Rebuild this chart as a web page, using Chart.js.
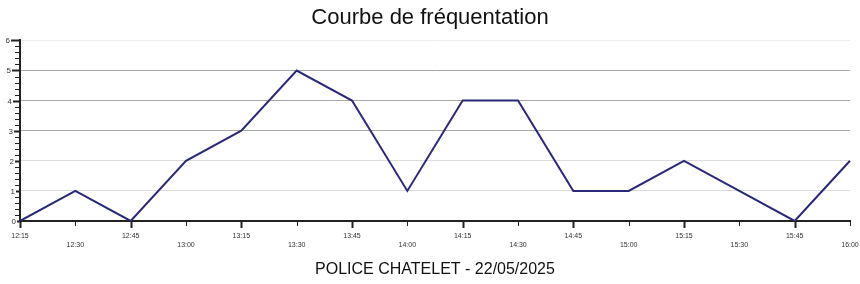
<!DOCTYPE html>
<html>
<head>
<meta charset="utf-8">
<script src="https://cdn.jsdelivr.net/npm/chart.js@4/dist/chart.umd.min.js"></script>
<style>
  html, body { margin: 0; padding: 0; background: #fff; }
  #chart { display: block; }
</style>
</head>
<body>
<canvas id="chart" width="860" height="284"></canvas>
<script>
// time slots (every 15 min) and counts
const timeLabels = ['12:15', '12:30', '12:45', '13:00', '13:15', '13:30', '13:45', '14:00',
  '14:15', '14:30', '14:45', '15:00', '15:15', '15:30', '15:45', '16:00'];
const visitors = [0, 1, 0, 2, 3, 5, 4, 1, 4, 4, 1, 1, 2, 1, 0, 2];
const yMin = 0;
const yMax = 6;
const yMinorStep = 0.2;

const FONT = "'Liberation Sans', Arial, sans-serif";
const AXIS_COLOR = '#222';

function isWhole(v) {
  return Math.abs(v - Math.round(v)) < 1e-6;
}

// grid shades differ a little per line in the original
function gridColor(v) {
  const r = Math.round(v);
  if (r === 6) return '#ececec';
  if (r === 5 || r === 4 || r === 3) return '#a8a8a8';
  return '#dcdcdc';
}

// y labels + tick marks drawn by hand: in the original the labels creep
// toward the axis as the value drops, and the long ticks shrink with them
const axisMarks = {
  id: 'axisMarks',
  afterDraw(chart) {
    const ctx = chart.ctx;
    const ys = chart.scales.y;
    const xs = chart.scales.x;
    ctx.save();
    ctx.strokeStyle = AXIS_COLOR;
    ctx.fillStyle = '#333';
    ctx.font = '8px ' + FONT;
    ctx.textAlign = 'right';
    ctx.textBaseline = 'middle';
    ys.ticks.forEach((t) => {
      const py = Math.round(ys.getPixelForValue(t.value)) + 0.5;
      const major = isWhole(t.value);
      let start = ys.right - 5;
      if (major) {
        const labelRight = ys.right - 10 + (yMax - t.value);
        ctx.fillText(String(Math.round(t.value)), labelRight, py);
        start = labelRight + 1;
      }
      ctx.lineWidth = major ? 2 : 1;
      ctx.beginPath();
      ctx.moveTo(start, py);
      ctx.lineTo(ys.right, py);
      ctx.stroke();
    });
    xs.ticks.forEach((t, i) => {
      const px = Math.round(xs.getPixelForTick(i)) + 0.5;
      const major = i % 2 === 0;
      ctx.lineWidth = major ? 2 : 1;
      ctx.beginPath();
      ctx.moveTo(px, xs.top);
      ctx.lineTo(px, xs.top + (major ? 7 : 5));
      ctx.stroke();
    });
    ctx.restore();
  },
};

new Chart(document.getElementById('chart'), {
  type: 'line',
  data: {
    labels: timeLabels,
    datasets: [
      {
        label: 'Fréquentation',
        data: visitors,
        borderColor: '#29297a',
        borderWidth: 2,
        pointRadius: 0,
        tension: 0,
        fill: false,
      },
    ],
  },
  options: {
    responsive: false,
    animation: false,
    devicePixelRatio: 1,
    layout: { padding: { left: 0, right: 0, top: 0, bottom: 5 } },
    plugins: {
      legend: { display: false },
      tooltip: { enabled: false },
      title: {
        display: true,
        text: 'Courbe de fréquentation',
        color: '#111',
        font: { family: FONT, size: 22, weight: 'normal' },
        padding: { top: 5, bottom: 9 },
      },
    },
    scales: {
      x: {
        type: 'category',
        offset: false,
        grid: { drawOnChartArea: false, drawTicks: false },
        border: { color: AXIS_COLOR, width: 2 },
        afterFit: (scale) => {
          scale.paddingRight = 10;
        },
        ticks: {
          autoSkip: false,
          maxRotation: 0,
          padding: 11,
          color: '#333',
          font: { family: FONT, size: 7 },
          callback: (v, i) => (i % 2 ? ['', timeLabels[i]] : timeLabels[i]),
        },
        title: {
          display: true,
          text: 'POLICE CHATELET - 22/05/2025',
          color: '#111',
          font: { family: FONT, size: 16 },
          padding: { top: 0, bottom: 0 },
        },
      },
      y: {
        min: yMin,
        max: yMax,
        afterFit: (scale) => {
          scale.width = 20;
        },
        grid: {
          drawTicks: false,
          color: (c) => (isWhole(c.tick.value) && c.tick.value > 0 ? gridColor(c.tick.value) : 'rgba(0,0,0,0)'),
          lineWidth: 1,
        },
        border: { color: AXIS_COLOR, width: 2 },
        ticks: {
          display: false,
          stepSize: yMinorStep,
          autoSkip: false,
        },
      },
    },
  },
  plugins: [axisMarks],
});
</script>
</body>
</html>
